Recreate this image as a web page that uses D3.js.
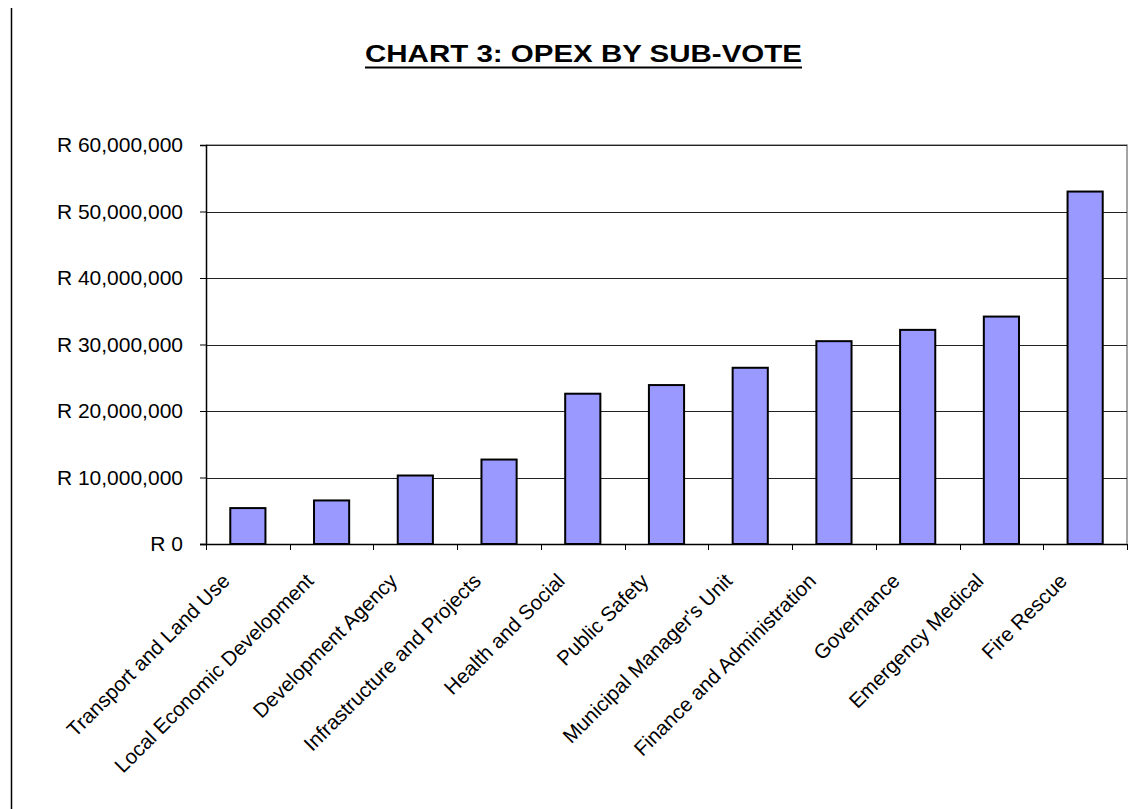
<!DOCTYPE html>
<html>
<head>
<meta charset="utf-8">
<script src="https://cdn.jsdelivr.net/npm/d3@7"></script>
<style>
  html, body { margin: 0; padding: 0; background: #fff; }
  svg { display: block; }
  text { font-family: "Liberation Sans", Arial, sans-serif; fill: #000; }
</style>
</head>
<body>
<svg id="chart" width="1146" height="809"></svg>
<script>
// Operating expenditure per sub-vote (Rand)
const categories = [
  "Transport and Land Use",
  "Local Economic Development",
  "Development Agency",
  "Infrastructure and Projects",
  "Health and Social",
  "Public Safety",
  "Municipal Manager's Unit",
  "Finance and Administration",
  "Governance",
  "Emergency Medical",
  "Fire Rescue"
];
const opex = [
  5400000, 6550000, 10300000, 12700000, 22600000, 23900000,
  26500000, 30500000, 32200000, 34200000, 53000000
];
const yTicks = [0, 10000000, 20000000, 30000000, 40000000, 50000000, 60000000];
const titleText = "CHART 3: OPEX BY SUB-VOTE";

const svg = d3.select("#chart");
const plot = { left: 206, right: 1127, top: 145, bottom: 544 };

const x = d3.scaleBand()
  .domain(categories)
  .range([plot.left, plot.right])
  .paddingInner(0.58)
  .paddingOuter(0.29);

const y = d3.scaleLinear()
  .domain([0, 60000000])
  .range([plot.bottom, plot.top]);

const fmt = v => "R " + d3.format(",")(v);

// Frame line on the left of the page
svg.append("line")
  .attr("x1", 11.5).attr("x2", 11.5)
  .attr("y1", 8).attr("y2", 809)
  .attr("stroke", "#000").attr("stroke-width", 1.5);

// Title, underlined
svg.append("text")
  .attr("x", 365).attr("y", 62)
  .attr("font-size", 24)
  .attr("font-weight", "bold")
  .attr("textLength", 437)
  .attr("lengthAdjust", "spacingAndGlyphs")
  .text(titleText);
svg.append("line")
  .attr("x1", 365).attr("x2", 802)
  .attr("y1", 67.5).attr("y2", 67.5)
  .attr("stroke", "#000").attr("stroke-width", 2);

// Plot frame (top and right edges)
svg.append("path")
  .attr("d", `M${plot.left},${plot.top}H${plot.right}V${plot.bottom}`)
  .attr("fill", "none")
  .attr("stroke", "#888").attr("stroke-width", 1.5);

// Horizontal gridlines
svg.append("g")
  .selectAll("line")
  .data(yTicks.filter(d => d > 0))
  .join("line")
  .attr("x1", plot.left).attr("x2", plot.right)
  .attr("y1", d => Math.round(y(d)) + 0.5)
  .attr("y2", d => Math.round(y(d)) + 0.5)
  .attr("stroke", "#222").attr("stroke-width", 1);

// Bars
svg.append("g")
  .selectAll("rect")
  .data(categories.map((c, i) => ({ c, v: opex[i] })))
  .join("rect")
  .attr("x", d => x(d.c))
  .attr("y", d => y(d.v))
  .attr("width", x.bandwidth())
  .attr("height", d => y(0) - y(d.v))
  .attr("fill", "#9999ff")
  .attr("stroke", "#000")
  .attr("stroke-width", 2);

// Y axis
const yAxis = svg.append("g")
  .attr("transform", `translate(${plot.left},0)`)
  .call(d3.axisLeft(y).tickValues(yTicks).tickFormat(fmt).tickSize(6).tickPadding(17));
yAxis.select(".domain").attr("stroke", "#000").attr("stroke-width", 1.5);
yAxis.selectAll(".tick line").attr("stroke", "#000");
yAxis.selectAll("text")
  .attr("font-size", 21)
  .attr("fill", "#222")
  .style("font-family", "'Liberation Sans', Arial, sans-serif");

// X axis baseline and ticks at band boundaries
const bounds = categories.map(c => x(c) - x.step() * x.paddingInner() / 2);
bounds.push(plot.right);
svg.append("line")
  .attr("x1", plot.left - 6).attr("x2", plot.right)
  .attr("y1", plot.bottom + 0.5).attr("y2", plot.bottom + 0.5)
  .attr("stroke", "#000").attr("stroke-width", 1.5);
svg.append("g")
  .selectAll("line")
  .data(bounds)
  .join("line")
  .attr("x1", d => Math.round(d) + 0.5).attr("x2", d => Math.round(d) + 0.5)
  .attr("y1", plot.bottom).attr("y2", plot.bottom + 6)
  .attr("stroke", "#000").attr("stroke-width", 1);

// Rotated category labels
svg.append("g")
  .selectAll("text")
  .data(categories)
  .join("text")
  .attr("transform", d => `translate(${x(d) + x.bandwidth() / 2 - 27},${plot.bottom + 28}) rotate(-45)`)
  .attr("text-anchor", "end")
  .attr("dy", "0.71em")
  .attr("font-size", 20.5)
  .attr("fill", "#111")
  .text(d => d);
</script>
</body>
</html>
